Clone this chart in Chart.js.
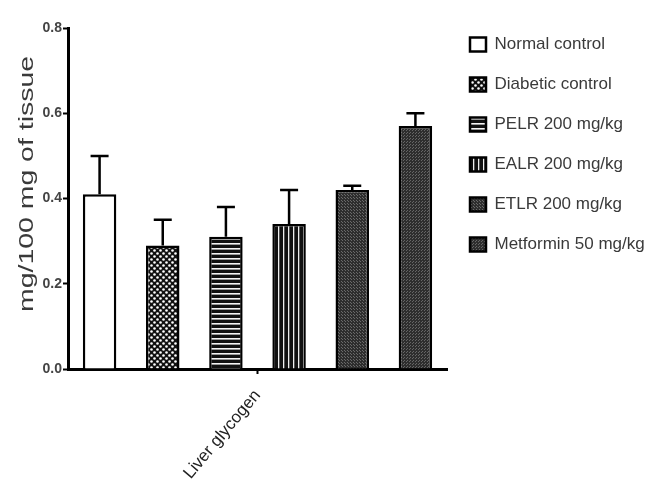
<!DOCTYPE html>
<html>
<head>
<meta charset="utf-8">
<script src="https://cdn.jsdelivr.net/npm/chart.js@4.4.1/dist/chart.umd.min.js"></script>
<style>
  html, body { margin: 0; padding: 0; background: #fff; }
  #wrap { width: 651px; height: 487px; }
</style>
</head>
<body>
<div id="wrap"><canvas id="c" width="651" height="487"></canvas></div>
<script>
// ---- data ----
const categories = ['Liver glycogen'];
const groups = ['Normal control', 'Diabetic control', 'PELR 200 mg/kg', 'EALR 200 mg/kg', 'ETLR 200 mg/kg', 'Metformin 50 mg/kg'];
const means = [0.41, 0.29, 0.31, 0.34, 0.42, 0.57];
const errors = [0.09, 0.06, 0.07, 0.08, 0.01, 0.03];
const yTicks = [0.0, 0.2, 0.4, 0.6, 0.8];
const yTitle = 'mg/100 mg of tissue';

// ---- fill patterns ----
function makePattern(w, h, draw) {
  const c = document.createElement('canvas');
  c.width = w; c.height = h;
  const g = c.getContext('2d');
  draw(g, w, h);
  return g.createPattern(c, 'repeat');
}
const fills = [
  '#ffffff',
  makePattern(6, 6, (g) => {
    g.fillStyle = '#111'; g.fillRect(0, 0, 6, 6);
    g.fillStyle = '#fff';
    g.beginPath(); g.arc(1.5, 1.5, 1.3, 0, Math.PI * 2); g.fill();
    g.beginPath(); g.arc(4.5, 4.5, 1.3, 0, Math.PI * 2); g.fill();
  }),
  makePattern(5, 5, (g) => {
    g.fillStyle = '#111'; g.fillRect(0, 0, 5, 5);
    g.fillStyle = '#f4f4f4'; g.fillRect(0, 3, 5, 1.6);
  }),
  makePattern(5, 5, (g) => {
    g.fillStyle = '#111'; g.fillRect(0, 0, 5, 5);
    g.fillStyle = '#eeeeee'; g.fillRect(3, 0, 1.3, 5);
  }),
  makePattern(3, 3, (g) => {
    g.fillStyle = '#2e2e2e'; g.fillRect(0, 0, 3, 3);
    g.fillStyle = '#6a6a6a'; g.fillRect(0, 0, 1, 1); g.fillRect(2, 2, 1, 1);
  }),
  makePattern(3, 3, (g) => {
    g.fillStyle = '#2e2e2e'; g.fillRect(0, 0, 3, 3);
    g.fillStyle = '#666'; g.fillRect(1, 1, 1, 1); g.fillRect(2, 0, 1, 1);
  })
];

const datasets = groups.map((name, i) => ({
  label: name,
  data: [means[i]],
  err: [errors[i]],
  backgroundColor: fills[i],
  borderColor: '#000',
  borderWidth: 2.5,
  borderSkipped: 'bottom'
}));

// ---- error bars ----
const errorBars = {
  id: 'errorBars',
  afterDatasetsDraw(chart) {
    const ctx = chart.ctx;
    const y = chart.scales.y;
    ctx.save();
    ctx.strokeStyle = '#000';
    ctx.lineWidth = 2.5;
    chart.data.datasets.forEach((ds, di) => {
      const meta = chart.getDatasetMeta(di);
      meta.data.forEach((bar, j) => {
        const top = y.getPixelForValue(ds.data[j] + ds.err[j]);
        ctx.beginPath();
        ctx.moveTo(bar.x, bar.y);
        ctx.lineTo(bar.x, top);
        ctx.moveTo(bar.x - 9, top);
        ctx.lineTo(bar.x + 9, top);
        ctx.stroke();
      });
    });
    ctx.restore();
  }
};

// ---- stretched y-axis title ----
const yTitlePlugin = {
  id: 'yTitlePlugin',
  afterDraw(chart) {
    const ctx = chart.ctx;
    const a = chart.chartArea;
    ctx.save();
    ctx.font = '21px "Liberation Sans", Arial, sans-serif';
    ctx.fillStyle = '#3a3a3a';
    ctx.textAlign = 'center';
    ctx.textBaseline = 'middle';
    const w = ctx.measureText(yTitle).width;
    const stretch = 256 / w;
    ctx.translate(a.left - 41, a.top + 156);
    ctx.rotate(-Math.PI / 2);
    ctx.scale(stretch, 1);
    ctx.fillText(yTitle, 0, 0);
    ctx.restore();
  }
};

new Chart(document.getElementById('c'), {
  type: 'bar',
  data: { labels: categories, datasets },
  plugins: [errorBars, yTitlePlugin],
  options: {
    responsive: false,
    animation: false,
    devicePixelRatio: 1,
    layout: { padding: { top: 13, right: 0, bottom: 0, left: 0 } },
    datasets: { bar: { categoryPercentage: 1.0, barPercentage: 0.53 } },
    plugins: {
      tooltip: { enabled: false },
      title: {
        display: true, text: '', fullSize: false,
        font: { size: 10, lineHeight: 1 }, padding: { top: 0, bottom: 5 }
      },
      legend: {
        display: true,
        position: 'right',
        align: 'start',
        maxWidth: 204,
        labels: {
          boxWidth: 16,
          boxHeight: 14,
          padding: 23,
          color: '#3a3a3a',
          font: { family: '"Liberation Sans", Arial, sans-serif', size: 17 }
        }
      }
    },
    scales: {
      x: {
        afterFit(s) { s.height = 118; },
        grid: {
          display: true, offset: false, drawOnChartArea: false,
          tickLength: 5, tickWidth: 2, tickColor: '#000'
        },
        border: { display: true, width: 3, color: '#000' },
        ticks: {
          minRotation: 50, maxRotation: 50, padding: 12,
          color: '#222',
          font: { family: '"Liberation Sans", Arial, sans-serif', size: 17 }
        }
      },
      y: {
        min: 0, max: 0.8,
        afterFit(s) { s.width = 68; },
        afterBuildTicks(s) { s.ticks = yTicks.map(v => ({ value: v })); },
        grid: {
          display: true, drawOnChartArea: false,
          tickLength: 5, tickWidth: 2, tickColor: '#000'
        },
        border: { display: true, width: 3, color: '#000' },
        ticks: {
          padding: 1,
          color: '#444',
          font: { family: '"Liberation Sans", Arial, sans-serif', size: 14, weight: 'bold' },
          callback: (v) => Number(v).toFixed(1)
        }
      }
    }
  }
});
</script>
</body>
</html>
